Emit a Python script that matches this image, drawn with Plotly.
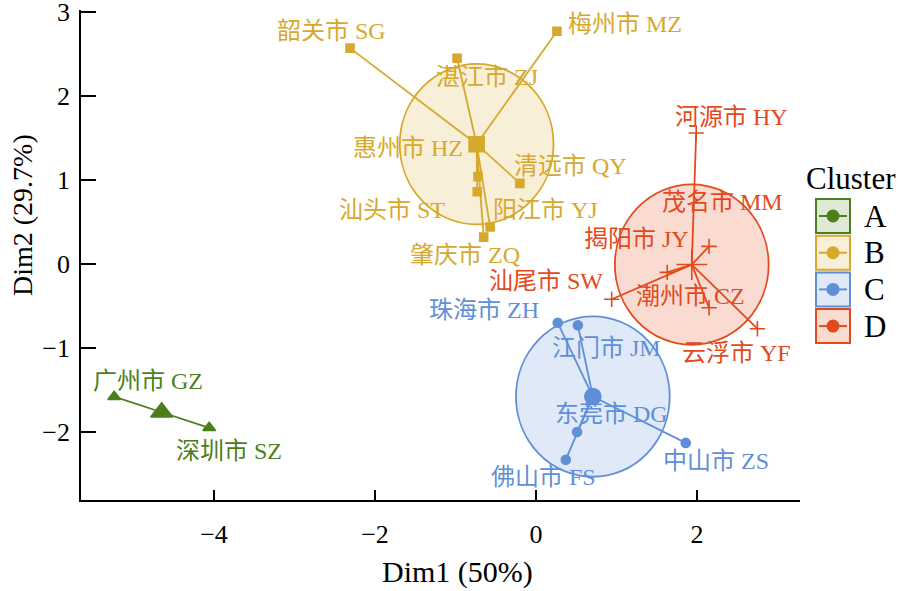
import numpy as np
import plotly.graph_objects as go

# ---------------- data ----------------
clusters = ["A", "B", "C", "D"]

cities_A = ["广州市 GZ", "深圳市 SZ"]
dim1_A = [-5.24, -4.06]
dim2_A = [-1.58, -1.95]

cities_B = ["韶关市 SG", "梅州市 MZ", "湛江市 ZJ", "清远市 QY",
            "惠州市 HZ", "汕头市 ST", "阳江市 YJ", "肇庆市 ZQ"]
dim1_B = [-2.31, 0.26, -0.98, -0.20, -0.72, -0.73, -0.57, -0.65]
dim2_B = [2.57, 2.77, 2.45, 0.96, 1.04, 0.86, 0.44, 0.32]

cities_C = ["珠海市 ZH", "江门市 JM", "东莞市 DG", "佛山市 FS", "中山市 ZS"]
dim1_C = [0.27, 0.52, 0.51, 0.37, 1.86]
dim2_C = [-0.70, -0.73, -2.00, -2.33, -2.13]

cities_D = ["河源市 HY", "茂名市 MM", "揭阳市 JY", "汕尾市 SW", "潮州市 CZ", "云浮市 YF"]
dim1_D = [1.99, 2.15, 1.63, 0.94, 2.15, 2.75]
dim2_D = [1.56, 0.21, -0.10, -0.42, -0.52, -0.77]

x_ticks = [-4, -2, 0, 2]
y_ticks = [-2, -1, 0, 1, 2, 3]
x_title = "Dim1 (50%)"
y_title = "Dim2 (29.7%)"

# ---------------- styles ----------------
colors = {"A": "#4b7f1c", "B": "#d6a92c", "C": "#5f8fd6", "D": "#e24a1c"}
fills = {"A": "rgba(75,127,28,0.18)", "B": "rgba(214,169,44,0.18)",
         "C": "rgba(95,143,214,0.2)", "D": "rgba(226,74,28,0.2)"}
symbols = {"A": "triangle-up", "B": "square", "C": "circle", "D": "cross-thin"}
pt_size = {"A": 11, "B": 8, "C": 9, "D": 11}
ct_size = {"A": 19, "B": 15, "C": 16, "D": 22}
circle_r = 0.955
draw_circle = {"A": False, "B": True, "C": True, "D": True}

# label offsets in pixels (dx, dy up)
label_off = {
    "广州市 GZ": (34, 16), "深圳市 SZ": (20, -23),
    "韶关市 SG": (-19, 17), "梅州市 MZ": (68, 7), "湛江市 ZJ": (30, -19),
    "清远市 QY": (51, 17), "惠州市 HZ": (-70, 29), "汕头市 ST": (-85, -18),
    "阳江市 YJ": (55, 17), "肇庆市 ZQ": (-19, -18),
    "珠海市 ZH": (-74, 13), "江门市 JM": (29, -23), "东莞市 DG": (34, 18),
    "佛山市 FS": (-22, -17), "中山市 ZS": (30, -18),
    "河源市 HY": (35, 16), "茂名市 MM": (13, 44), "揭阳市 JY": (-31, 33),
    "汕尾市 SW": (-66, 18), "潮州市 CZ": (-19, 12), "云浮市 YF": (-21, -24),
}

data = {
    "A": (cities_A, dim1_A, dim2_A),
    "B": (cities_B, dim1_B, dim2_B),
    "C": (cities_C, dim1_C, dim2_C),
    "D": (cities_D, dim1_D, dim2_D),
}

FONT = "Liberation Serif, Times New Roman, Noto Sans CJK SC, serif"

W, H = 900, 591
ML, MR, MT, MB = 81, 100, 10, 91

fig = go.Figure()
shapes = []
annotations = []

for c in clusters:
    names, xs, ys = data[c]
    xs = np.array(xs); ys = np.array(ys)
    cx, cy = xs.mean(), ys.mean()
    col = colors[c]
    if draw_circle[c]:
        shapes.append(dict(type="circle", xref="x", yref="y",
                           x0=cx - circle_r, x1=cx + circle_r,
                           y0=cy - circle_r, y1=cy + circle_r,
                           fillcolor=fills[c], line=dict(color=col, width=1.8),
                           layer="below"))
    sx, sy = [], []
    for x, y in zip(xs, ys):
        sx += [cx, x, None]; sy += [cy, y, None]
    fig.add_trace(go.Scatter(x=sx, y=sy, mode="lines",
                             line=dict(color=col, width=1.8),
                             hoverinfo="skip", showlegend=False))
    fig.add_trace(go.Scatter(x=xs, y=ys, mode="markers",
                             marker=dict(symbol=symbols[c], size=pt_size[c], color=col,
                                         line=dict(color=col, width=1.6)),
                             text=names, showlegend=False))
    fig.add_trace(go.Scatter(x=[cx], y=[cy], mode="markers",
                             marker=dict(symbol=symbols[c], size=ct_size[c], color=col,
                                         line=dict(color=col, width=1.6)),
                             showlegend=False))
    for n, x, y in zip(names, xs, ys):
        dx, dy = label_off[n]
        annotations.append(dict(x=x, y=y, xref="x", yref="y", text=n, showarrow=False,
                                xshift=dx, yshift=dy,
                                font=dict(family=FONT, size=24, color=col)))

# ---------------- manual legend & titles ----------------
pw, ph = W - ML - MR, H - MT - MB
def px_x(px): return (px - ML) / pw
def px_y(py): return (H - MB - py) / ph

annotations.append(dict(x=px_x(898), y=px_y(178), xref="paper", yref="paper",
                        text="Cluster", showarrow=False, xanchor="right", yanchor="middle",
                        font=dict(family=FONT, size=31, color="black")))
box_top = 199
step = 36.7
for i, c in enumerate(clusters):
    t = box_top + i * step
    b = t + 34
    l, r = 816, 850
    mid = (t + b) / 2
    shapes.append(dict(type="rect", xref="paper", yref="paper",
                       x0=px_x(l), x1=px_x(r), y0=px_y(b), y1=px_y(t),
                       fillcolor=fills[c], line=dict(color=colors[c], width=2)))
    shapes.append(dict(type="line", xref="paper", yref="paper",
                       x0=px_x(l + 3), x1=px_x(r - 3), y0=px_y(mid), y1=px_y(mid),
                       line=dict(color=colors[c], width=2)))
    shapes.append(dict(type="circle", xref="paper", yref="paper",
                       xsizemode="pixel", ysizemode="pixel",
                       xanchor=px_x((l + r) / 2), yanchor=px_y(mid),
                       x0=-6.5, x1=6.5, y0=-6.5, y1=6.5,
                       fillcolor=colors[c], line=dict(color=colors[c], width=0)))
    annotations.append(dict(x=px_x(862), y=px_y(mid), xref="paper", yref="paper",
                            text=c, showarrow=False, xanchor="left", yanchor="middle",
                            font=dict(family=FONT, size=31, color="black")))

annotations.append(dict(x=px_x(457), y=px_y(572), xref="paper", yref="paper",
                        text=x_title, showarrow=False, xanchor="center", yanchor="middle",
                        font=dict(family=FONT, size=30, color="black")))
annotations.append(dict(x=px_x(22), y=px_y(215), xref="paper", yref="paper",
                        text=y_title, showarrow=False, textangle=-90,
                        xanchor="center", yanchor="middle",
                        font=dict(family=FONT, size=28, color="black")))

# ---------------- layout ----------------
x_range = [(ML - 536) / 80.5, (W - MR - 536) / 80.5]
y_range = [-(H - MB - 264) / 84.0, (264 - MT) / 84.0]

fig.update_layout(
    width=W, height=H,
    margin=dict(l=ML, r=MR, t=MT, b=MB),
    paper_bgcolor="white", plot_bgcolor="white",
    shapes=shapes, annotations=annotations,
    font=dict(family=FONT, color="black"),
    xaxis=dict(range=x_range, tickvals=x_ticks, showgrid=False, zeroline=False,
               showline=True, linecolor="black", linewidth=1.6,
               ticks="inside", ticklen=10, tickwidth=1.5, tickcolor="black",
               tickfont=dict(family=FONT, size=26), ticklabelstandoff=10,
               ticklabeloverflow="allow", automargin=False),
    yaxis=dict(range=y_range, tickvals=y_ticks, showgrid=False, zeroline=False,
               showline=True, linecolor="black", linewidth=1.6,
               ticks="inside", ticklen=15, tickwidth=1.5, tickcolor="black",
               tickfont=dict(family=FONT, size=26), ticklabelstandoff=4,
               ticklabeloverflow="allow", automargin=False),
)

fig.write_html("out.html", config={"displayModeBar": False},
               post_script="document.body.style.margin='0px';")
